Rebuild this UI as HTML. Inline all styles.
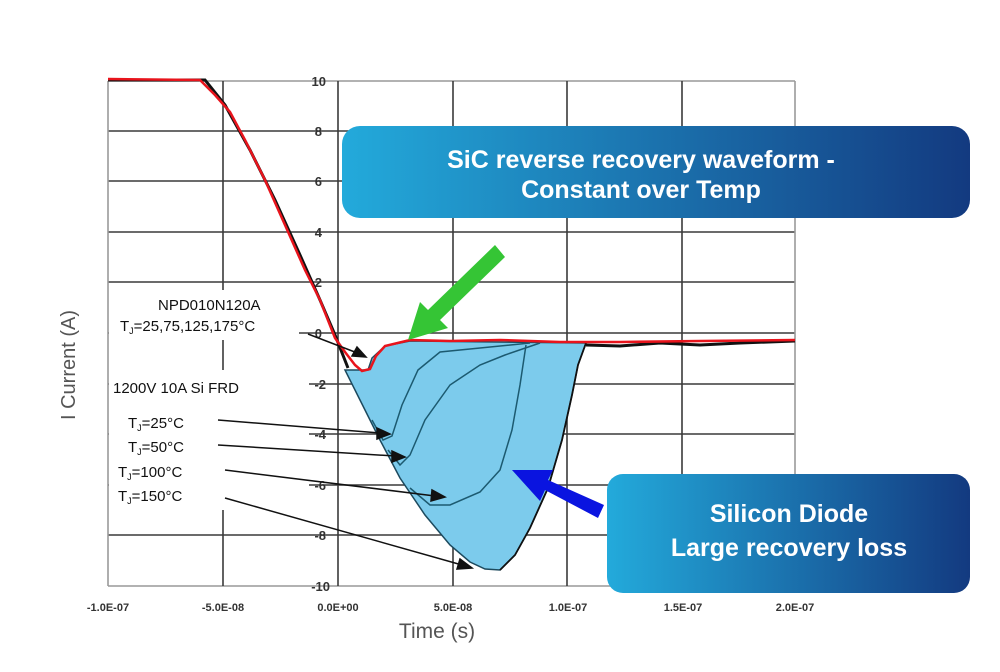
<!DOCTYPE html>
<html><head><meta charset="utf-8"><style>
html,body{margin:0;padding:0;background:#fff}
svg{display:block}
</style></head><body>
<svg width="1000" height="672" viewBox="0 0 1000 672" xmlns="http://www.w3.org/2000/svg">
<defs>
<linearGradient id="g" x1="0" x2="1" y1="0" y2="0">
<stop offset="0" stop-color="#23aadb"/><stop offset="1" stop-color="#133a80"/>
</linearGradient>
</defs>
<g stroke="#3a3a3a" stroke-width="1.6">
<line x1="108" y1="81" x2="795" y2="81" stroke="#999"/>
<line x1="108" y1="131" x2="795" y2="131"/>
<line x1="108" y1="181" x2="795" y2="181"/>
<line x1="108" y1="232" x2="795" y2="232"/>
<line x1="108" y1="282" x2="795" y2="282"/>
<line x1="108" y1="333" x2="795" y2="333"/>
<line x1="108" y1="384" x2="795" y2="384"/>
<line x1="108" y1="434" x2="795" y2="434"/>
<line x1="108" y1="485" x2="795" y2="485"/>
<line x1="108" y1="535" x2="795" y2="535"/>
<line x1="108" y1="586" x2="795" y2="586" stroke="#999"/>
<line x1="108" y1="81" x2="108" y2="586" stroke="#999"/>
<line x1="223" y1="81" x2="223" y2="586"/>
<line x1="338" y1="81" x2="338" y2="586"/>
<line x1="453" y1="81" x2="453" y2="586"/>
<line x1="567" y1="81" x2="567" y2="586"/>
<line x1="682" y1="81" x2="682" y2="586"/>
<line x1="795" y1="81" x2="795" y2="586" stroke="#999"/>
</g>
<rect x="109" y="290" width="190" height="50" fill="#fff"/>
<rect x="109" y="370" width="200" height="140" fill="#fff"/>
<g font-family="Liberation Sans, sans-serif" font-size="13" font-weight="bold" fill="#333" text-anchor="end">
<text x="326" y="86">10</text><text x="322" y="136">8</text><text x="322" y="186">6</text>
<text x="322" y="237">4</text><text x="322" y="287">2</text><text x="322" y="338">0</text>
<text x="326" y="389">-2</text><text x="326" y="439">-4</text><text x="326" y="490">-6</text>
<text x="326" y="540">-8</text><text x="330" y="591">-10</text>
</g>
<g font-family="Liberation Sans, sans-serif" font-size="11" font-weight="bold" fill="#333" text-anchor="middle">
<text x="108" y="611">-1.0E-07</text><text x="223" y="611">-5.0E-08</text><text x="338" y="611">0.0E+00</text>
<text x="453" y="611">5.0E-08</text><text x="568" y="611">1.0E-07</text><text x="683" y="611">1.5E-07</text><text x="795" y="611">2.0E-07</text>
</g>
<text x="437" y="638" font-family="Liberation Sans, sans-serif" font-size="21" fill="#555" text-anchor="middle">Time (s)</text>
<text transform="translate(75,365) rotate(-90)" font-family="Liberation Sans, sans-serif" font-size="20" fill="#555" text-anchor="middle">I Current (A)</text>
<path d="M345,370 L360,400 L380,440 L400,478 L425,515 L450,545 L470,562 L485,569 L500,570 L515,555 L530,528 L548,488 L562,440 L572,395 L578,365 L586,343 L410,341 L385,346 L372,358 L368,370 Z" fill="#7ccbec" stroke="#1d4a5e" stroke-width="1.5"/>
<g fill="none" stroke="#1c5a70" stroke-width="1.5">
<path d="M372,420 L383,440 L392,436 L402,405 L418,370 L440,352 L480,348 L530,343"/>
<path d="M388,450 L400,465 L410,455 L425,420 L450,385 L480,365 L505,355 L540,343"/>
<path d="M410,488 L430,505 L450,505 L480,492 L500,470 L512,430 L520,385 L526,345"/>
</g>
<path d="M500,570 L515,555 L530,528 L548,488 L562,440 L572,395 L578,365 L586,343" fill="none" stroke="#111" stroke-width="1.8"/>
<path d="M108,80 L205,80 L225,105 L250,150 L275,200 L300,255 L320,300 L335,335 L348,368 M586,345 L620,346 L660,343 L700,345 L740,343 L795,341" fill="none" stroke="#111" stroke-width="3"/>
<path d="M108,79 L200,80 L215,95 L230,112 L245,140 L265,180 L285,225 L305,270 L320,300 L335,338 L345,352 L355,365 L362,371 L370,369 L376,356 L385,346 L410,340 L450,341 L500,340 L560,342 L620,342 L700,341 L795,340" fill="none" stroke="#e8141c" stroke-width="2.5"/>
<g font-family="Liberation Sans, sans-serif" font-size="15" fill="#111">
<text x="158" y="310">NPD010N120A</text>
<text x="120" y="331">T<tspan font-size="9" dy="3">J</tspan><tspan dy="-3">=25,75,125,175°C</tspan></text>
<text x="113" y="393">1200V 10A  Si FRD</text>
<text x="128" y="428">T<tspan font-size="9" dy="3">J</tspan><tspan dy="-3">=25°C</tspan></text>
<text x="128" y="452">T<tspan font-size="9" dy="3">J</tspan><tspan dy="-3">=50°C</tspan></text>
<text x="118" y="477">T<tspan font-size="9" dy="3">J</tspan><tspan dy="-3">=100°C</tspan></text>
<text x="118" y="501">T<tspan font-size="9" dy="3">J</tspan><tspan dy="-3">=150°C</tspan></text>
</g>
<g stroke="#111" stroke-width="1.5" fill="#111">
<line x1="308" y1="334" x2="360" y2="354"/><polygon points="366,357 352,356 357,347"/>
<line x1="218" y1="420" x2="380" y2="433"/><polygon points="390,434 377,428 377,439"/>
<line x1="218" y1="445" x2="395" y2="456"/><polygon points="405,457 392,451 392,462"/>
<line x1="225" y1="470" x2="435" y2="496"/><polygon points="445,497 432,490 431,501"/>
<line x1="225" y1="498" x2="462" y2="565"/><polygon points="472,568 460,559 457,569"/>
</g>
<path d="M495,245 L505,257 L440,320 L448,328 L408,340 L420,302 L428,310 Z" fill="#35c535"/>
<path d="M604,505 L598,518 L545,490 L540,501 L512,470 L553,470 L548,480 Z" fill="#0a14e0"/>
<rect x="342" y="126" width="628" height="92" rx="18" fill="url(#g)"/>
<text x="641" y="168" font-family="Liberation Sans, sans-serif" font-size="25" font-weight="bold" fill="#fff" text-anchor="middle">SiC reverse recovery waveform -</text>
<text x="641" y="198" font-family="Liberation Sans, sans-serif" font-size="25" font-weight="bold" fill="#fff" text-anchor="middle">Constant over Temp</text>
<rect x="607" y="474" width="363" height="119" rx="16" fill="url(#g)"/>
<text x="789" y="522" font-family="Liberation Sans, sans-serif" font-size="25" font-weight="bold" fill="#fff" text-anchor="middle">Silicon Diode</text>
<text x="789" y="556" font-family="Liberation Sans, sans-serif" font-size="25" font-weight="bold" fill="#fff" text-anchor="middle">Large recovery loss</text>
</svg>
</body></html>
